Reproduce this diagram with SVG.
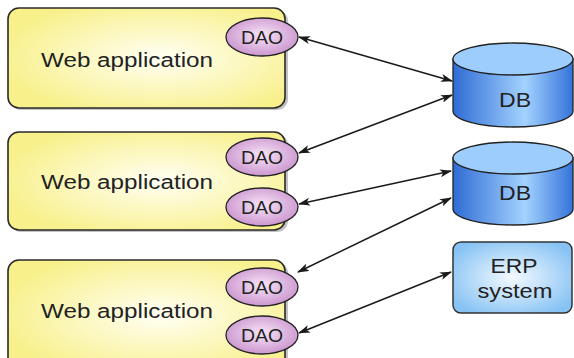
<svg xmlns="http://www.w3.org/2000/svg" width="574" height="358" viewBox="0 0 574 358">
  <defs>
    <radialGradient id="gYellow" cx="0.55" cy="0.5" r="0.6">
      <stop offset="0" stop-color="#fffff4"/>
      <stop offset="1" stop-color="#f8f08a"/>
    </radialGradient>
    <radialGradient id="gDao" cx="0.5" cy="0.45" r="0.6">
      <stop offset="0" stop-color="#f6e4f6"/>
      <stop offset="1" stop-color="#c88fcc"/>
    </radialGradient>
    <linearGradient id="gCyl" x1="0" y1="0" x2="1" y2="0">
      <stop offset="0" stop-color="#2f6cd4"/>
      <stop offset="0.6" stop-color="#a3d2ff"/>
      <stop offset="1" stop-color="#3573da"/>
    </linearGradient>
    <radialGradient id="gErp" cx="0.5" cy="0.5" r="0.6">
      <stop offset="0" stop-color="#f4faff"/>
      <stop offset="1" stop-color="#86c2f4"/>
    </radialGradient>
    <marker id="arr" viewBox="0 0 12 8" refX="11" refY="4" markerWidth="12" markerHeight="8" markerUnits="userSpaceOnUse" orient="auto-start-reverse">
      <path d="M0,0 L12,4 L0,8 L3,4 z" fill="#1a1a1a"/>
    </marker>
    <style>
      .box { fill: url(#gYellow); stroke: #2a2a2a; stroke-width: 1.6; }
      .shadow { fill: #9a9a9a; opacity: 0.6; }
      .dao { fill: url(#gDao); stroke: #222; stroke-width: 1.3; }
      .cylbody { fill: url(#gCyl); stroke: #222; stroke-width: 1.3; }
      .cyltop { fill: #9ccdfd; stroke: #222; stroke-width: 1.3; }
      .erp { fill: url(#gErp); stroke: #333; stroke-width: 1.5; }
      .lbl { font-family: "Liberation Sans", Arial, sans-serif; fill: #222; }
      .big { font-size: 20px; }
      .db { font-size: 21px; text-anchor: middle; }
      .small { font-size: 18px; text-anchor: middle; }
      .mid { text-anchor: middle; }
      .conn line { stroke: #1a1a1a; stroke-width: 1.5; marker-start: url(#arr); marker-end: url(#arr); }
    </style>
  </defs>

  <g id="webapp1">
    <rect class="shadow" x="10" y="10" width="278" height="100" rx="11"/>
    <rect class="box" x="8" y="8" width="277" height="100" rx="11"/>
    <text class="lbl big" x="41" y="67" textLength="172" lengthAdjust="spacingAndGlyphs">Web application</text>
  </g>
  <g id="dao1">
    <ellipse class="dao" cx="262" cy="37" rx="36" ry="19"/>
    <text class="lbl small" x="262" y="44" textLength="42" lengthAdjust="spacingAndGlyphs">DAO</text>
  </g>

  <g id="webapp2">
    <rect class="shadow" x="10" y="134" width="278" height="98" rx="11"/>
    <rect class="box" x="8" y="132" width="277" height="98" rx="11"/>
    <text class="lbl big" x="41" y="189" textLength="172" lengthAdjust="spacingAndGlyphs">Web application</text>
  </g>
  <g id="dao2a">
    <ellipse class="dao" cx="262" cy="157" rx="36" ry="19"/>
    <text class="lbl small" x="262" y="164" textLength="42" lengthAdjust="spacingAndGlyphs">DAO</text>
  </g>
  <g id="dao2b">
    <ellipse class="dao" cx="262" cy="207" rx="36" ry="19"/>
    <text class="lbl small" x="262" y="214" textLength="42" lengthAdjust="spacingAndGlyphs">DAO</text>
  </g>

  <g id="webapp3">
    <rect class="shadow" x="10" y="262" width="278" height="110" rx="11"/>
    <rect class="box" x="8" y="260" width="277" height="110" rx="11"/>
    <text class="lbl big" x="41" y="318" textLength="172" lengthAdjust="spacingAndGlyphs">Web application</text>
  </g>
  <g id="dao3a">
    <ellipse class="dao" cx="262" cy="287" rx="36" ry="19"/>
    <text class="lbl small" x="262" y="294" textLength="42" lengthAdjust="spacingAndGlyphs">DAO</text>
  </g>
  <g id="dao3b">
    <ellipse class="dao" cx="262" cy="335" rx="36" ry="19"/>
    <text class="lbl small" x="262" y="342" textLength="42" lengthAdjust="spacingAndGlyphs">DAO</text>
  </g>

  <g id="db1">
    <path class="cylbody" d="M453,59 L453,111 A60,16 0 0 0 573,111 L573,59 Z"/>
    <ellipse class="cyltop" cx="513" cy="59" rx="60" ry="16"/>
    <text class="lbl db" x="515" y="107" textLength="32" lengthAdjust="spacingAndGlyphs">DB</text>
  </g>

  <g id="db2">
    <path class="cylbody" d="M453,158 L453,209 A60,16 0 0 0 573,209 L573,158 Z"/>
    <ellipse class="cyltop" cx="513" cy="158" rx="60" ry="16"/>
    <text class="lbl db" x="515" y="200" textLength="32" lengthAdjust="spacingAndGlyphs">DB</text>
  </g>

  <g id="erp">
    <rect class="erp" x="453" y="242" width="119" height="71" rx="8"/>
    <text class="lbl big mid" x="514" y="273" textLength="47" lengthAdjust="spacingAndGlyphs">ERP</text>
    <text class="lbl big mid" x="515" y="298" textLength="75" lengthAdjust="spacingAndGlyphs">system</text>
  </g>

  <g id="connectors" class="conn">
    <line x1="299" y1="37" x2="452" y2="81"/>
    <line x1="299" y1="153" x2="452" y2="95"/>
    <line x1="299" y1="204" x2="451" y2="171"/>
    <line x1="298" y1="272" x2="451" y2="198"/>
    <line x1="299" y1="333" x2="451" y2="272"/>
  </g>
</svg>
